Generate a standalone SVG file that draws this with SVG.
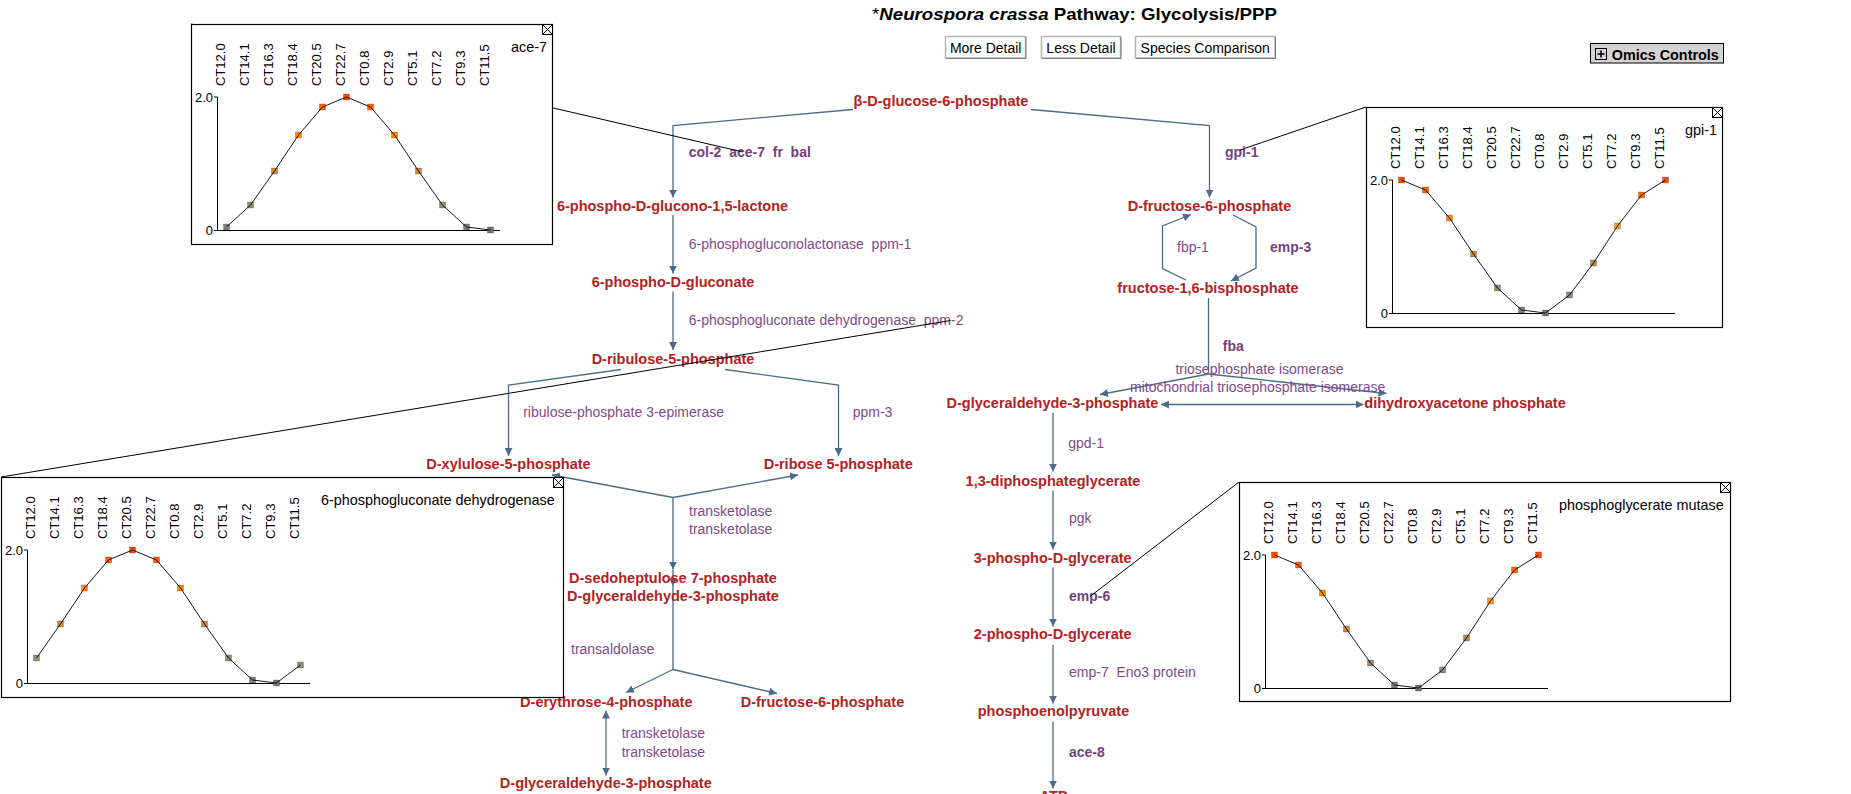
<svg xmlns="http://www.w3.org/2000/svg" width="1851" height="794" viewBox="0 0 1851 794">
<defs>
<style>
text { font-family: "Liberation Sans", Arial, Helvetica, sans-serif; }
.m { font-weight: bold; font-size: 14.5px; fill: #b22222; text-anchor: middle; }
.e { font-size: 14px; fill: #7e4a8a; }
.eb { font-size: 14px; font-weight: bold; fill: #743f80; }
.c { fill: none; stroke: #4a6b8c; stroke-width: 1.3; }
.ca { marker-end: url(#ah); }
.cb { marker-start: url(#ah); marker-end: url(#ah); }
.lk { fill: none; stroke: #000; stroke-width: 1; }
.frame { fill: #fff; stroke: #000; stroke-width: 1.2; }
.ax { fill: none; stroke: #000; stroke-width: 1; }
.ct { font-size: 13px; fill: #000; }
.ttl { font-size: 14.4px; fill: #000; }
.dl { fill: none; stroke: #000; stroke-width: 0.9; }
.btn { fill: #fff; stroke: #b4b4b4; stroke-width: 1.5; }
.btnsh { fill: none; stroke: #7a7a7a; stroke-width: 1; }
.btnt { font-size: 14px; fill: #000; text-anchor: middle; }
.pt { stroke: #000; stroke-width: 0.6; stroke-opacity: 0.35; }
</style>
<marker id="ah" viewBox="0 0 10 10" refX="10" refY="5" markerWidth="8" markerHeight="8" markerUnits="userSpaceOnUse" orient="auto-start-reverse"><path d="M0,0 L10,5 L0,10 z" fill="#4a6b8c"/></marker>
<g id="chart">
 <path class="ax" d="M26.5,73 V206.5 M23,206.5 H309 M23,73 H26.5"/>
 <text class="ct" x="22" y="77.5" text-anchor="end">2.0</text>
 <text class="ct" x="22" y="211" text-anchor="end">0</text>
 <text class="ct" transform="translate(33.5,62) rotate(-90)">CT12.0</text>
 <text class="ct" transform="translate(57.5,62) rotate(-90)">CT14.1</text>
 <text class="ct" transform="translate(81.5,62) rotate(-90)">CT16.3</text>
 <text class="ct" transform="translate(105.5,62) rotate(-90)">CT18.4</text>
 <text class="ct" transform="translate(129.5,62) rotate(-90)">CT20.5</text>
 <text class="ct" transform="translate(153.5,62) rotate(-90)">CT22.7</text>
 <text class="ct" transform="translate(177.5,62) rotate(-90)">CT0.8</text>
 <text class="ct" transform="translate(201.5,62) rotate(-90)">CT2.9</text>
 <text class="ct" transform="translate(225.5,62) rotate(-90)">CT5.1</text>
 <text class="ct" transform="translate(249.5,62) rotate(-90)">CT7.2</text>
 <text class="ct" transform="translate(273.5,62) rotate(-90)">CT9.3</text>
 <text class="ct" transform="translate(297.5,62) rotate(-90)">CT11.5</text>
</g>
<g id="closeicon"><rect x="0" y="0" width="10" height="10" fill="#fff" stroke="#000" stroke-width="1"/><path d="M0,0 L10,10 M10,0 L0,10" stroke="#000" stroke-width="1"/></g>
</defs>
<rect width="1851" height="794" fill="#fff"/>

<g id="header">
 <text x="872" y="20" font-size="17" font-weight="bold" fill="#000" textLength="405" lengthAdjust="spacingAndGlyphs"><tspan font-weight="normal">*</tspan><tspan font-style="italic">Neurospora crassa</tspan> Pathway: Glycolysis/PPP</text>
</g>
<g id="btn-more-detail">
 <rect class="btn" x="945.5" y="36.5" width="80" height="21.5"/>
 <path class="btnsh" d="M946,58.5 H1026 V37"/>
 <text class="btnt" x="985.7" y="53">More Detail</text>
</g>
<g id="btn-less-detail">
 <rect class="btn" x="1041.5" y="36.5" width="79" height="21.5"/>
 <path class="btnsh" d="M1042,58.5 H1121 V37"/>
 <text class="btnt" x="1081" y="53">Less Detail</text>
</g>
<g id="btn-species-comparison">
 <rect class="btn" x="1135.5" y="36.5" width="139.5" height="21.5"/>
 <path class="btnsh" d="M1136,58.5 H1275.5 V37"/>
 <text class="btnt" x="1205.2" y="53">Species Comparison</text>
</g>
<g id="btn-omics-controls">
 <rect x="1590.5" y="43.5" width="133" height="19.5" fill="#d4d4d4" stroke="#000" stroke-width="1"/>
 <rect x="1595.5" y="48.5" width="11" height="11" fill="none" stroke="#000" stroke-width="1"/>
 <path d="M1597.5,54 H1604.5 M1601,50.5 V57.5" stroke="#000" stroke-width="1.6"/>
 <text x="1611.7" y="60" font-size="14.4" font-weight="bold" fill="#000">Omics Controls</text>
</g>

<g id="connectors">
 <path class="c ca" d="M853,109.5 L673,125.5 V197.5"/>
 <path class="c ca" d="M1031,109.5 L1209.5,125.5 V197.5"/>
 <path class="c ca" d="M673,215 V273.5"/>
 <path class="c ca" d="M673,291.5 V350"/>
 <path class="c ca" d="M621,369.5 L508.5,385 V456"/>
 <path class="c ca" d="M725,369.5 L838.5,385 V456"/>
 <path class="c ca" d="M673,497.5 L552,475"/>
 <path class="c ca" d="M673,497.5 L798,475"/>
 <path class="c ca" d="M673,497.5 V569.5"/>
 <path class="c ca" d="M673,569.5 V586"/>
 <path class="c" d="M673,586 V669.5"/>
 <path class="c ca" d="M673,669.5 L626,692.5"/>
 <path class="c ca" d="M673,669.5 L777,693.5"/>
 <path class="c cb" d="M606,710.5 V775.5"/>
 <path class="c ca" d="M1186,280 L1162.5,268.5 V226 L1191,214.5"/>
 <path class="c ca" d="M1233,215 L1256,227 V268 L1231,281"/>
 <path class="c" d="M1208.5,298 V374"/>
 <path class="c ca" d="M1208.5,374 L1100,394.5"/>
 <path class="c ca" d="M1208.5,374 L1386.5,393.5"/>
 <path class="c cb" d="M1161,404.5 H1363.5"/>
 <path class="c ca" d="M1053,413 V471.5"/>
 <path class="c ca" d="M1053,490.5 V549.5"/>
 <path class="c ca" d="M1053,567.5 V626.5"/>
 <path class="c ca" d="M1053,645 V703.5"/>
 <path class="c ca" d="M1053,721.5 V788.5"/>
</g>

<g id="met-b-d-glucose-6-phosphate"><text class="m" x="941" y="106">β-D-glucose-6-phosphate</text></g>
<g id="met-6-phospho-d-glucono-lactone"><text class="m" x="672.5" y="210.5">6-phospho-D-glucono-1,5-lactone</text></g>
<g id="met-6-phospho-d-gluconate"><text class="m" x="673" y="286.5">6-phospho-D-gluconate</text></g>
<g id="met-d-ribulose-5-phosphate"><text class="m" x="673" y="364">D-ribulose-5-phosphate</text></g>
<g id="met-d-xylulose-5-phosphate"><text class="m" x="508.5" y="469">D-xylulose-5-phosphate</text></g>
<g id="met-d-ribose-5-phosphate"><text class="m" x="838.2" y="469">D-ribose 5-phosphate</text></g>
<g id="met-d-sedoheptulose-7-phosphate"><text class="m" x="673" y="583">D-sedoheptulose 7-phosphate</text></g>
<g id="met-g3p-ppp"><text class="m" x="673" y="601">D-glyceraldehyde-3-phosphate</text></g>
<g id="met-d-erythrose-4-phosphate"><text class="m" x="606.3" y="706.7">D-erythrose-4-phosphate</text></g>
<g id="met-f6p-ppp"><text class="m" x="822.5" y="706.7">D-fructose-6-phosphate</text></g>
<g id="met-g3p-bottom"><text class="m" x="605.8" y="788.3">D-glyceraldehyde-3-phosphate</text></g>
<g id="met-d-fructose-6-phosphate"><text class="m" x="1209.5" y="210.5">D-fructose-6-phosphate</text></g>
<g id="met-fructose-1-6-bisphosphate"><text class="m" x="1208" y="293">fructose-1,6-bisphosphate</text></g>
<g id="met-g3p-glycolysis"><text class="m" x="1052.5" y="408.3">D-glyceraldehyde-3-phosphate</text></g>
<g id="met-dihydroxyacetone-phosphate"><text class="m" x="1465" y="408.3">dihydroxyacetone phosphate</text></g>
<g id="met-1-3-diphosphateglycerate"><text class="m" x="1053" y="485.7">1,3-diphosphateglycerate</text></g>
<g id="met-3-phospho-d-glycerate"><text class="m" x="1052.7" y="562.7">3-phospho-D-glycerate</text></g>
<g id="met-2-phospho-d-glycerate"><text class="m" x="1052.7" y="639.3">2-phospho-D-glycerate</text></g>
<g id="met-phosphoenolpyruvate"><text class="m" x="1053.5" y="716">phosphoenolpyruvate</text></g>
<g id="met-atp"><text class="m" x="1053.5" y="800.5">ATP</text></g>

<g id="enz-col-2-ace-7-fr-bal"><text class="eb" x="688.7" y="157">col-2&#160; ace-7&#160; fr&#160; bal</text></g>
<g id="enz-gpi-1"><text class="eb" x="1225" y="157">gpi-1</text></g>
<g id="enz-6pgl"><text class="e" x="688.7" y="249.3">6-phosphogluconolactonase&#160; ppm-1</text></g>
<g id="enz-6pgd"><text class="e" x="688.7" y="325">6-phosphogluconate dehydrogenase&#160; ppm-2</text></g>
<g id="enz-rpe"><text class="e" x="523.2" y="416.7">ribulose-phosphate 3-epimerase</text></g>
<g id="enz-ppm-3"><text class="e" x="852.7" y="416.7">ppm-3</text></g>
<g id="enz-transketolase-1"><text class="e" x="689" y="516">transketolase</text><text class="e" x="689" y="534">transketolase</text></g>
<g id="enz-transaldolase"><text class="e" x="571" y="654.3">transaldolase</text></g>
<g id="enz-transketolase-2"><text class="e" x="621.7" y="738.3">transketolase</text><text class="e" x="621.7" y="756.7">transketolase</text></g>
<g id="enz-fbp-1"><text class="e" x="1177" y="251.7">fbp-1</text></g>
<g id="enz-emp-3"><text class="eb" x="1270" y="251.7">emp-3</text></g>
<g id="enz-fba"><text class="eb" x="1222.8" y="350.7">fba</text></g>
<g id="enz-tpi"><text class="e" x="1175.4" y="374.3">triosephosphate isomerase</text><text class="e" x="1130" y="391.7">mitochondrial triosephosphate isomerase</text></g>
<g id="enz-gpd-1"><text class="e" x="1068.3" y="448.3">gpd-1</text></g>
<g id="enz-pgk"><text class="e" x="1069" y="523.3">pgk</text></g>
<g id="enz-emp-6"><text class="eb" x="1069" y="600.7">emp-6</text></g>
<g id="enz-emp-7"><text class="e" x="1069" y="677.3">emp-7&#160; Eno3 protein</text></g>
<g id="enz-ace-8"><text class="eb" x="1069" y="757.3">ace-8</text></g>

<g id="omics-links">
 <path class="lk" d="M743,152 L191,24"/>
 <path class="lk" d="M1240,150 L1366,107"/>
 <path class="lk" d="M950.5,320.5 L1,477"/>
 <path class="lk" d="M1090,596.5 L1239,482"/>
</g>

<g id="omics-ace-7" transform="translate(191,24)">
 <rect class="frame" x="0.5" y="0.5" width="361" height="220"/>
 <use href="#closeicon" x="351.5" y="0.5"/>
 <text class="ttl" x="320" y="28">ace-7</text>
 <use href="#chart"/>
 <g class="pt">
 <rect x="32.5" y="200" width="6" height="6" fill="#808080"/>
 <rect x="56.5" y="178" width="6" height="6" fill="#9c8a70"/>
 <rect x="80.5" y="144" width="6" height="6" fill="#cc8a3c"/>
 <rect x="104.5" y="108" width="6" height="6" fill="#ff8a00"/>
 <rect x="128.5" y="80" width="6" height="6" fill="#ff6400"/>
 <rect x="152.5" y="70" width="6" height="6" fill="#ff4f00"/>
 <rect x="176.5" y="80" width="6" height="6" fill="#ff6400"/>
 <rect x="200.5" y="108" width="6" height="6" fill="#ff8a00"/>
 <rect x="224.5" y="144" width="6" height="6" fill="#cc8a3c"/>
 <rect x="248.5" y="178" width="6" height="6" fill="#9c8a70"/>
 <rect x="272.5" y="200" width="6" height="6" fill="#808080"/>
 <rect x="296.5" y="203" width="6" height="6" fill="#757575"/>
 </g>
 <polyline class="dl" points="35.5,203 59.5,181 83.5,147 107.5,111 131.5,83 155.5,73 179.5,83 203.5,111 227.5,147 251.5,181 275.5,203 299.5,206"/>
</g>

<g id="omics-gpi-1" transform="translate(1366,107)">
 <rect class="frame" x="0.5" y="0.5" width="356" height="220"/>
 <use href="#closeicon" x="346.5" y="0.5"/>
 <text class="ttl" x="319" y="28">gpi-1</text>
 <use href="#chart"/>
 <g class="pt">
 <rect x="32.5" y="70" width="6" height="6" fill="#ff4f00"/>
 <rect x="56.5" y="80" width="6" height="6" fill="#ff6400"/>
 <rect x="80.5" y="108" width="6" height="6" fill="#ff8a00"/>
 <rect x="104.5" y="144" width="6" height="6" fill="#cc8a3c"/>
 <rect x="128.5" y="178" width="6" height="6" fill="#9c8a70"/>
 <rect x="152.5" y="200" width="6" height="6" fill="#808080"/>
 <rect x="176.5" y="203" width="6" height="6" fill="#757575"/>
 <rect x="200.5" y="185" width="6" height="6" fill="#968a78"/>
 <rect x="224.5" y="153" width="6" height="6" fill="#bb8a4c"/>
 <rect x="248.5" y="116" width="6" height="6" fill="#ff9c10"/>
 <rect x="272.5" y="85" width="6" height="6" fill="#ff6c00"/>
 <rect x="296.5" y="70" width="6" height="6" fill="#ff4f00"/>
 </g>
 <polyline class="dl" points="35.5,73 59.5,83 83.5,111 107.5,147 131.5,181 155.5,203 179.5,206 203.5,188 227.5,156 251.5,119 275.5,88 299.5,73"/>
</g>

<g id="omics-6pgd" transform="translate(1,477)">
 <rect class="frame" x="0.5" y="0.5" width="562" height="220"/>
 <use href="#closeicon" x="552.5" y="0.5"/>
 <text class="ttl" x="320" y="28">6-phosphogluconate dehydrogenase</text>
 <use href="#chart"/>
 <g class="pt">
 <rect x="32.5" y="178" width="6" height="6" fill="#9c8a70"/>
 <rect x="56.5" y="144" width="6" height="6" fill="#cc8a3c"/>
 <rect x="80.5" y="108" width="6" height="6" fill="#ff8a00"/>
 <rect x="104.5" y="80" width="6" height="6" fill="#ff6400"/>
 <rect x="128.5" y="70" width="6" height="6" fill="#ff4f00"/>
 <rect x="152.5" y="80" width="6" height="6" fill="#ff6400"/>
 <rect x="176.5" y="108" width="6" height="6" fill="#ff8a00"/>
 <rect x="200.5" y="144" width="6" height="6" fill="#cc8a3c"/>
 <rect x="224.5" y="178" width="6" height="6" fill="#9c8a70"/>
 <rect x="248.5" y="200" width="6" height="6" fill="#808080"/>
 <rect x="272.5" y="203" width="6" height="6" fill="#757575"/>
 <rect x="296.5" y="185" width="6" height="6" fill="#968a78"/>
 </g>
 <polyline class="dl" points="35.5,181 59.5,147 83.5,111 107.5,83 131.5,73 155.5,83 179.5,111 203.5,147 227.5,181 251.5,203 275.5,206 299.5,188"/>
</g>

<g id="omics-pgm" transform="translate(1239,482)">
 <rect class="frame" x="0.5" y="0.5" width="491" height="219"/>
 <use href="#closeicon" x="481.5" y="0.5"/>
 <text class="ttl" x="320" y="28">phosphoglycerate mutase</text>
 <use href="#chart"/>
 <g class="pt">
 <rect x="32.5" y="70" width="6" height="6" fill="#ff4f00"/>
 <rect x="56.5" y="80" width="6" height="6" fill="#ff6400"/>
 <rect x="80.5" y="108" width="6" height="6" fill="#ff8a00"/>
 <rect x="104.5" y="144" width="6" height="6" fill="#cc8a3c"/>
 <rect x="128.5" y="178" width="6" height="6" fill="#9c8a70"/>
 <rect x="152.5" y="200" width="6" height="6" fill="#808080"/>
 <rect x="176.5" y="203" width="6" height="6" fill="#757575"/>
 <rect x="200.5" y="185" width="6" height="6" fill="#968a78"/>
 <rect x="224.5" y="153" width="6" height="6" fill="#bb8a4c"/>
 <rect x="248.5" y="116" width="6" height="6" fill="#ff9c10"/>
 <rect x="272.5" y="85" width="6" height="6" fill="#ff6c00"/>
 <rect x="296.5" y="70" width="6" height="6" fill="#ff4f00"/>
 </g>
 <polyline class="dl" points="35.5,73 59.5,83 83.5,111 107.5,147 131.5,181 155.5,203 179.5,206 203.5,188 227.5,156 251.5,119 275.5,88 299.5,73"/>
</g>
</svg>
